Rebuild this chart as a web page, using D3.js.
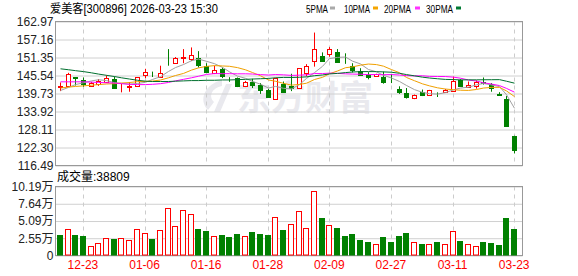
<!DOCTYPE html>
<html><head><meta charset="utf-8">
<script src="https://cdn.jsdelivr.net/npm/d3@7"></script>
<style>
body{margin:0;background:#fff}
svg{display:block}
text{font-family:"Liberation Sans","Noto Sans CJK SC",sans-serif}
</style>
</head><body>
<svg id="c" width="578" height="276"></svg>
<script>
const title = "爱美客[300896] 2026-03-23 15:30";
const dates = ["12-18","12-19","12-22","12-23","12-24","12-25","12-26","12-29","12-30","12-31",
"01-05","01-06","01-07","01-08","01-09","01-12","01-13","01-14","01-15","01-16",
"01-19","01-20","01-21","01-22","01-23","01-26","01-27","01-28","01-29","01-30",
"02-02","02-03","02-04","02-05","02-06","02-09","02-10","02-11","02-12","02-13",
"02-24","02-25","02-26","02-27","03-02","03-03","03-04","03-05","03-06","03-09",
"03-10","03-11","03-12","03-13","03-16","03-17","03-18","03-19","03-20","03-23"];
const opens = [141.7,142.3,144.95,144.2,142.2,142.8,143.6,144.4,141.7,141.7,
142.3,145.6,146.1,145.2,150.5,149.6,151.3,150.9,151.1,148.7,
146.3,147.6,145.0,144.7,142.05,143.6,142.4,140.8,138.1,142.9,
142.3,141.5,146.5,150.2,151.9,152.4,153.0,149.35,148.7,147.05,
145.8,145.5,145.2,143.15,141.3,139.95,138.4,140.3,139.4,139.65,
140.3,140.5,144.2,141.7,142.3,143.3,142.8,139.5,137.8,126.1];
const highs = [143.3,146.4,144.95,144.9,143.5,144.4,145.6,145.2,142.9,143.4,
144.9,147.7,146.8,148.7,154.06,151.5,154.06,154.6,153.4,149.5,
148.7,148.1,145.0,144.9,143.8,144.5,143.1,141.2,144.8,143.6,
146.1,147.9,149.2,159.4,153.0,154.7,154.06,152.7,149.5,147.9,
146.6,146.1,146.8,146.0,142.05,141.5,139.4,141.0,140.9,140.1,
141.2,145.2,144.4,143.6,143.95,144.9,143.1,140.15,138.9,126.1];
const lows = [140.5,141.9,142.3,141.9,141.9,142.2,143.1,141.3,140.1,140.3,
142.3,144.7,145.05,144.9,148.7,149.5,149.5,150.2,148.1,146.3,
146.0,144.7,143.5,141.8,141.8,141.5,139.6,138.6,138.0,139.95,
140.5,141.5,145.3,148.4,150.0,151.6,149.8,149.3,146.5,145.5,
144.3,145.5,142.9,143.1,139.6,138.1,137.9,138.9,139.0,138.6,
140.0,140.3,142.05,141.7,141.3,142.6,140.3,139.4,129.3,120.4];
const closes = [142.0,146.0,144.85,142.9,143.2,143.9,144.7,141.4,141.8,142.0,
144.9,146.6,146.0,146.3,150.4,151.2,151.5,152.15,148.96,146.8,
147.4,145.5,144.9,142.05,143.3,142.4,141.0,138.7,144.7,140.2,
141.5,147.9,148.7,154.06,150.3,154.06,149.8,149.3,147.4,145.8,
145.05,146.1,143.6,143.1,140.2,138.6,139.4,139.2,140.9,139.55,
141.0,143.9,142.05,142.4,143.3,143.2,141.5,139.4,129.3,121.35];
// volume in 万 (10k)
const volumes = [2.98,3.98,2.98,2.83,1.44,1.89,2.63,2.49,2.63,2.34,
3.98,3.38,2.49,3.83,6.96,4.42,6.66,6.11,3.88,3.58,
2.93,2.98,2.68,3.13,2.93,3.43,3.13,2.98,5.62,3.73,
4.72,6.51,4.13,9.49,5.52,4.57,4.03,2.83,3.13,2.24,
1.94,1.74,2.68,1.94,2.83,3.28,2.04,1.64,1.74,1.94,
1.74,3.68,2.09,1.74,1.44,1.94,1.79,1.49,5.52,3.8809];
// volume bar colour: 1 = red (up), 0 = green
const volUp = [0,1,0,0,1,1,1,0,1,1, 1,1,0,1,1,1,1,1,0,0,
1,0,0,0,1,0,0,0,1,0, 1,1,1,1,0,1,0,0,0,0,
0,1,0,0,0,0,1,0,1,0, 1,1,0,1,1,0,0,0,0,0];
// moving-average values before enough bars exist
const ma5Head = [140.7,141.7,142.6,143.2];
const ma10Head = [141.5,141.8,142.0,142.2,142.4,142.6,142.8,142.9,143.1];
const ma20Head = [143.5,143.5,143.5,143.5,143.4,143.3,143.2,143.1,142.9,142.7,
142.6,142.6,142.7,142.9,143.3,143.8,144.3,144.8,145.3];
const ma30Head = [147.7,147.4,147.1,146.8,146.4,146.0,145.6,145.2,144.8,144.4,
144.0,143.7,143.6,143.6,143.6,143.7,143.8,143.9,143.9,144.0,
144.0,144.1,144.1,144.2,144.3,144.4,144.5,144.6,144.8];
const priceTicks = [162.97,157.16,151.35,145.54,139.73,133.92,128.11,122.30,116.49];
const volTicks = [10.19,7.64,5.09,2.55,0];
const xTickLabels = ["12-23","01-06","01-16","01-28","02-09","02-27","03-11","03-23"];
const maNames = ["5PMA","10PMA","20PMA","30PMA"];
const maWindows = [5,10,20,30];
const lastVolume = "38809";

const RED="#ff0000", GREEN="#008000";
const maColors = ["#a0a0a0","#f0a000","#ff00ff","#006f2e"];
const legendColors = ["#aaaaaa","#f5a500","#ff33ff","#007a33"];

const svg = d3.select("#c");
const L=55.5, R=522.5, pTop=21.5, pBot=165.5, vTop=186.5, vBot=255.5;

const x = d3.scaleBand().domain(dates).range([56,518]);
const cx = d => Math.round(x(d)+x.bandwidth()/2);
const y = d3.scaleLinear().domain([priceTicks[priceTicks.length-1], priceTicks[0]]).range([pBot,pTop]);
const yv = d3.scaleLinear().domain([0, volTicks[0]]).range([vBot,vTop]);

// watermark
svg.append("text").attr("x",237).attr("y",110).attr("font-size",34).attr("font-weight","bold")
  .attr("font-family","Noto Sans CJK SC").attr("fill","#e9e9ee").text("东方财富");
svg.append("path").attr("d","M222 80 C205 84 198 100 208 110 L214 102 C208 96 212 88 222 86 Z M226 84 L232 84 L220 112 L214 112 Z")
  .attr("fill","#e9e9ee");

// horizontal grids
const gp = svg.append("g").attr("transform",`translate(${L},0)`)
  .call(d3.axisLeft(y).tickValues(priceTicks).tickSize(-(R-L)).tickFormat(""));
gp.select(".domain").remove();
gp.selectAll("line").attr("stroke","#d0d0d0").attr("transform","translate(0,0)");
const gv = svg.append("g").attr("transform",`translate(${L},0)`)
  .call(d3.axisLeft(yv).tickValues(volTicks).tickSize(-(R-L)).tickFormat(""));
gv.select(".domain").remove();
gv.selectAll("line").attr("stroke","#d0d0d0");

// vertical dashed grids
xTickLabels.forEach(d=>{
  const xx = cx(d)+0.5;
  [[pTop,pBot],[vTop,vBot]].forEach(([a,b])=>{
    svg.append("line").attr("x1",xx).attr("x2",xx).attr("y1",a).attr("y2",b)
      .attr("stroke","#cccccc").attr("stroke-dasharray","4,4");
  });
});

// frames
[[pTop,pBot],[vTop,vBot]].forEach(([a,b])=>{
  svg.append("rect").attr("x",L).attr("y",a).attr("width",R-L).attr("height",b-a)
    .attr("fill","none").attr("stroke","#999");
});

// axes labels
const ay = svg.append("g").attr("transform",`translate(${L},0)`)
  .call(d3.axisLeft(y).tickValues(priceTicks).tickSize(0).tickPadding(2).tickFormat(d=>d.toFixed(2)));
ay.select(".domain").remove();
ay.selectAll("text").attr("font-size",12).attr("fill","#222").attr("font-family","Liberation Sans");
const av = svg.append("g").attr("transform",`translate(${L},0)`)
  .call(d3.axisLeft(yv).tickValues(volTicks).tickSize(0).tickPadding(2).tickFormat(d=>d===0?"0":d.toFixed(2)+"万"));
av.select(".domain").remove();
av.selectAll("text").attr("font-size",12).attr("fill","#222");
const ax = svg.append("g").attr("transform",`translate(0,${vBot})`)
  .call(d3.axisBottom(x).tickValues(xTickLabels).tickSize(0).tickPadding(5));
ax.select(".domain").remove();
ax.selectAll("text").attr("font-size",12).attr("fill",RED).attr("font-family","Liberation Sans");

// volume bars
svg.append("g").selectAll("rect").data(dates).join("rect")
  .attr("x",(d)=>cx(d)-2.5).attr("width",5)
  .attr("y",(d,i)=>Math.round(yv(volumes[i]))+0.5)
  .attr("height",(d,i)=>Math.max(0,vBot-0.5-(Math.round(yv(volumes[i]))+0.5)))
  .attr("fill",(d,i)=>volUp[i]?"#fff":GREEN)
  .attr("stroke",(d,i)=>volUp[i]?RED:GREEN);

// MA lines
const mas = maWindows.map((n,k)=>{
  const head=[ma5Head,ma10Head,ma20Head,ma30Head][k];
  return closes.map((c,i)=> i<n-1 ? head[i] : d3.mean(closes.slice(i-n+1,i+1)));
});

// candles
const cg = svg.append("g");
dates.forEach((d,i)=>{
  const up = closes[i]>=opens[i];
  const col = up?RED:GREEN;
  const px = cx(d)+0.5;
  cg.append("line").attr("x1",px).attr("x2",px).attr("y1",y(highs[i])).attr("y2",y(lows[i]))
    .attr("stroke",col).attr("stroke-width",1);
  const top = Math.round(y(Math.max(opens[i],closes[i])))+0.5;
  const bot = Math.round(y(Math.min(opens[i],closes[i])))+0.5;
  cg.append("rect").attr("x",px-2).attr("width",4).attr("y",top).attr("height",Math.max(0,bot-top))
    .attr("fill",up?"#fff":col).attr("stroke",col).attr("stroke-width",1);
});

const line = d3.line().x((v,i)=>cx(dates[i])+0.5).y(v=>y(v));
mas.forEach((m,k)=>{
  svg.append("path").datum(m).attr("d",line).attr("fill","none")
    .attr("stroke",maColors[k]).attr("stroke-width",1);
});

// title & legend
svg.append("text").attr("x",50).attr("y",13).attr("font-size",12)
  .attr("font-family","Noto Sans CJK SC").attr("fill","#000")
  .attr("textLength",168).attr("lengthAdjust","spacingAndGlyphs").text(title);
const legX = [306,344,384,426], legW=[22,26,27,27], sqX=[330,373,415,456];
maNames.forEach((n,k)=>{
  svg.append("text").attr("x",legX[k]).attr("y",13).attr("font-size",11).attr("fill","#000")
    .attr("textLength",legW[k]).attr("lengthAdjust","spacingAndGlyphs").text(n);
  svg.append("rect").attr("x",sqX[k]).attr("y",6.5).attr("width",5).attr("height",3).attr("fill",legendColors[k]);
});
svg.append("text").attr("x",57).attr("y",181).attr("font-size",12).attr("fill","#000")
  .text("成交量:"+lastVolume);
</script>
</body></html>
